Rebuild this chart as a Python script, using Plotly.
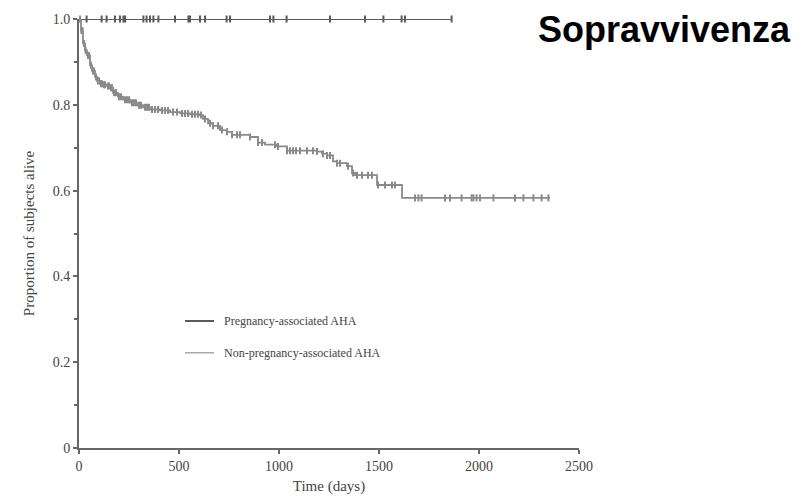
import numpy as np
import plotly.graph_objects as go

# ---- data ----
preg_end_day = 1865
preg_censor_days = [38, 113, 138, 180, 205, 222, 230, 322, 338, 355, 372, 397, 480,
                    547, 555, 605, 630, 738, 755, 955, 972, 1038, 1255, 1430, 1522,
                    1613, 1630, 1863]

nonpreg_days = [0, 10, 20, 30, 40, 55, 65, 80, 90, 105, 120, 140, 155, 170, 195, 220,
                255, 290, 320, 355, 405, 455, 505, 555, 600, 620, 645, 670, 705, 740,
                765, 855, 895, 930, 990, 1040, 1190, 1215, 1240, 1270, 1290, 1340,
                1365, 1380, 1490, 1615, 2355]
nonpreg_surv = [1.0, 0.973, 0.943, 0.927, 0.915, 0.892, 0.879, 0.865, 0.856, 0.849,
                0.847, 0.844, 0.840, 0.828, 0.819, 0.812, 0.805, 0.799, 0.794, 0.789,
                0.787, 0.783, 0.780, 0.778, 0.776, 0.767, 0.757, 0.751, 0.741, 0.737,
                0.730, 0.725, 0.712, 0.707, 0.703, 0.693, 0.691, 0.686, 0.682, 0.668,
                0.664, 0.657, 0.641, 0.636, 0.613, 0.583, 0.583]
nonpreg_censor_days = [5, 12, 18, 25, 33, 45, 50, 60, 70, 75, 85, 95, 100, 110, 115, 125,
                       130, 145, 150, 160, 165, 175, 185, 200, 210, 230, 240, 250, 265,
                       275, 285, 300, 310, 330, 340, 350, 365, 380, 395, 415, 430, 445,
                       470, 490, 515, 530, 545, 565, 580, 595, 610, 630, 655, 670, 695,
                       715, 740, 765, 790, 805, 855, 895, 915, 980, 995, 1040, 1055,
                       1070, 1085, 1105, 1140, 1170, 1190, 1220, 1240, 1255, 1290, 1305,
                       1345, 1370, 1390, 1415, 1445, 1465, 1495, 1530, 1565, 1580,
                       1680, 1697, 1713, 1830, 1855, 1913, 1963, 1972, 1988, 2005, 2072,
                       2180, 2222, 2272, 2313, 2347]

y_tick_vals = [0, 0.2, 0.4, 0.6, 0.8, 1.0]
y_tick_text = ["0", "0.2", "0.4", "0.6", "0.8", "1.0"]
y_minor_vals = [0.1, 0.3, 0.5, 0.7, 0.9]
x_tick_vals = [0, 500, 1000, 1500, 2000, 2500]
x_tick_text = ["0", "500", "1000", "1500", "2000", "2500"]

DARK = "#5a5a5a"
LIGHT = "#8a8a8a"
SERIF = "Liberation Serif, Times New Roman, serif"


def step_value(days, surv, t):
    idx = np.searchsorted(np.array(days), np.array(t), side="right") - 1
    return np.array(surv)[idx]


fig = go.Figure()

# Pregnancy-associated AHA
fig.add_trace(go.Scatter(x=[0, preg_end_day], y=[1.0, 1.0], mode="lines",
                         line=dict(color=DARK, width=2), name="Pregnancy-associated AHA",
                         cliponaxis=False))
fig.add_trace(go.Scatter(x=preg_censor_days, y=[1.0] * len(preg_censor_days), mode="markers",
                         marker=dict(symbol="line-ns", size=5, line=dict(color=DARK, width=2)),
                         showlegend=False, cliponaxis=False))

# Non-pregnancy-associated AHA
fig.add_trace(go.Scatter(x=nonpreg_days, y=nonpreg_surv, mode="lines", line_shape="hv",
                         line=dict(color=LIGHT, width=1.8), showlegend=False,
                         cliponaxis=False))
fig.add_trace(go.Scatter(x=nonpreg_censor_days,
                         y=step_value(nonpreg_days, nonpreg_surv, nonpreg_censor_days),
                         mode="markers",
                         marker=dict(symbol="line-ns", size=5, line=dict(color=LIGHT, width=2)),
                         showlegend=False, cliponaxis=False))

# legend drawn manually as lines + text in paper coords
leg_items = [("Pregnancy-associated AHA", DARK, 0.296), ("Non-pregnancy-associated AHA", "#a8a8a8", 0.222)]
for label, col, yy in leg_items:
    fig.add_shape(type="line", xref="paper", yref="paper", x0=0.212, x1=0.27, y0=yy, y1=yy,
                  line=dict(color=col, width=2 if col == DARK else 1.5))
    fig.add_annotation(xref="paper", yref="paper", x=0.286, y=yy, text=label, showarrow=False,
                       xanchor="left", yanchor="middle",
                       font=dict(family=SERIF, size=12, color="#444"))

fig.add_annotation(xref="paper", yref="paper", x=1.428, y=0.975, text="<b>Sopravvivenza</b>",
                   showarrow=False, xanchor="right", yanchor="middle",
                   font=dict(family="Liberation Sans, Arial, sans-serif", size=36, color="#000"))

axis_common = dict(showline=True, linecolor="#666", linewidth=2, ticks="outside",
                   tickcolor="#666", tickwidth=2, ticklen=4, showgrid=False, zeroline=False,
                   tickfont=dict(family=SERIF, size=14, color="#444"))

fig.update_xaxes(range=[0, 2500], tickmode="array", tickvals=x_tick_vals, ticktext=x_tick_text,
                 title=dict(text="Time (days)", font=dict(family=SERIF, size=15, color="#444"),
                            standoff=8),
                 **axis_common)
fig.update_yaxes(range=[0, 1.0], tickmode="array", tickvals=y_tick_vals, ticktext=y_tick_text,
                 minor=dict(tickmode="array", tickvals=y_minor_vals, ticks="outside", ticklen=3,
                            tickcolor="#666", tickwidth=2),
                 title=dict(text="Proportion of subjects alive",
                            font=dict(family=SERIF, size=15, color="#444"), standoff=14),
                 **axis_common)

fig.update_layout(width=802, height=504, margin=dict(l=79, r=223, t=13, b=54),
                  plot_bgcolor="white", paper_bgcolor="white", showlegend=False)

fig.write_html("out.html")
